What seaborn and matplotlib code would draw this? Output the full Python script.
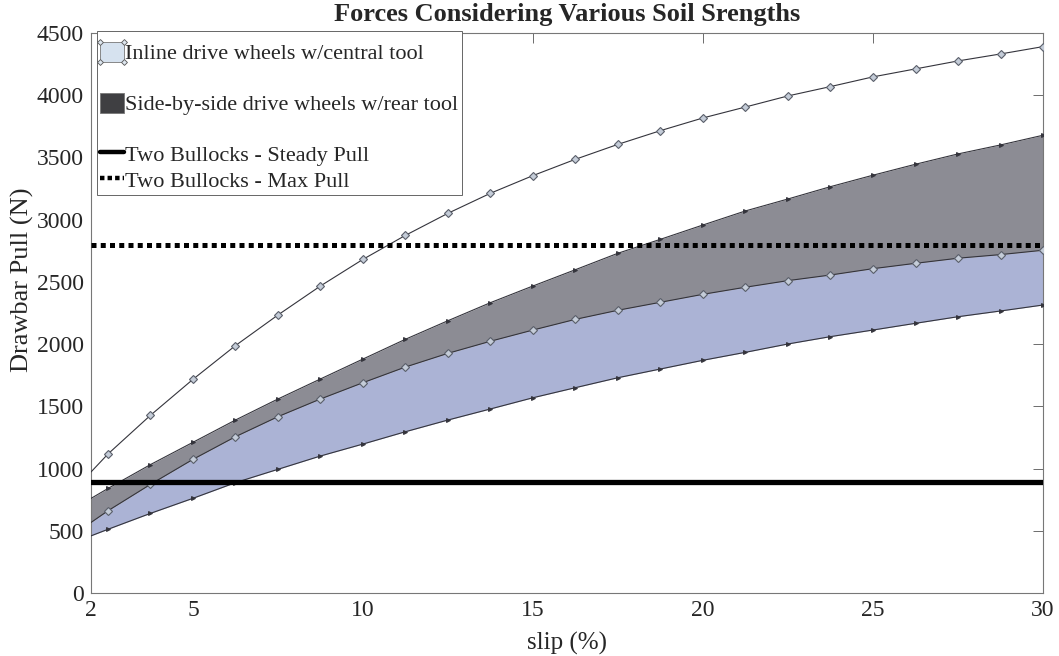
import numpy as np
import pandas as pd
import matplotlib
matplotlib.use("Agg")
import matplotlib.pyplot as plt
import seaborn as sns
from matplotlib.patches import Rectangle, Patch
from matplotlib.lines import Line2D
from matplotlib.legend_handler import HandlerBase

# Slip values (%) at which drawbar pull was evaluated
slip = [1.25, 2.5, 3.75, 5.0, 6.25, 7.5, 8.75, 10.0, 11.25, 12.5, 13.75, 15.0,
        16.25, 17.5, 18.75, 20.0, 21.25, 22.5, 23.75, 25.0, 26.25, 27.5, 28.75, 30.0]

# Drawbar pull (N) for each soil strength case
pull_upper_bound = [755, 1117, 1428, 1717, 1988, 2234, 2467, 2681, 2874, 3051, 3212, 3354,
                    3485, 3605, 3715, 3817, 3905, 3994, 4069, 4147, 4211, 4275, 4331, 4390]
pull_side_high = [640, 840, 1032, 1211, 1390, 1559, 1720, 1880, 2039, 2188, 2333, 2467,
                  2598, 2730, 2842, 2957, 3070, 3166, 3265, 3357, 3445, 3528, 3600, 3678]
pull_inline_high = [425, 661, 873, 1074, 1256, 1417, 1559, 1690, 1816, 1926, 2023, 2113,
                    2199, 2272, 2336, 2400, 2457, 2510, 2555, 2606, 2649, 2690, 2719, 2754]
pull_low = [380, 512, 640, 761, 887, 994, 1101, 1197, 1296, 1390, 1479, 1569,
            1650, 1730, 1800, 1870, 1934, 2001, 2060, 2113, 2167, 2220, 2266, 2314]

bullock_steady = 890
bullock_max = 2800

x_ticks = [2, 5, 10, 15, 20, 25, 30]
y_ticks = list(range(0, 4501, 500))

labels = ["Inline drive wheels w/central tool",
          "Side-by-side drive wheels w/rear tool",
          "Two Bullocks - Steady Pull",
          "Two Bullocks - Max Pull"]

df = pd.DataFrame({
    "slip": slip * 4,
    "pull": pull_upper_bound + pull_side_high + pull_inline_high + pull_low,
    "curve": (["upper"] * len(slip) + ["side"] * len(slip)
              + ["inline"] * len(slip) + ["low"] * len(slip)),
})

sns.set_theme(style="white")
plt.rcParams["font.family"] = ["Liberation Serif", "DejaVu Serif"]

fig = plt.figure(figsize=(10.59, 6.56), dpi=100)
ax = fig.add_axes([0.0859, 0.096, 0.899, 0.8538])

BLUE = "#abb3d5"
GREY = "#8c8c94"
EDGE = "#34343c"

ax.fill_between(slip, pull_low, pull_inline_high, color=BLUE, lw=0, zorder=1)
ax.fill_between(slip, pull_inline_high, pull_side_high, color=GREY, lw=0, zorder=1)

diamond_kw = dict(marker="D", markersize=4.0, markerfacecolor="#c4ccd8",
                  markeredgecolor="#5a5f6a", markeredgewidth=0.8)
small_kw = dict(marker=">", markersize=2.8, markerfacecolor=EDGE, markeredgecolor=EDGE)

for name, kw in [("upper", diamond_kw), ("inline", diamond_kw),
                 ("side", small_kw), ("low", small_kw)]:
    sns.lineplot(data=df[df["curve"] == name], x="slip", y="pull", ax=ax,
                 color=EDGE, lw=0.8, zorder=3, legend=False, **kw)

ax.axhline(bullock_steady, color="black", lw=3.8, zorder=4)
ax.axhline(bullock_max, color="black", lw=3.6, linestyle=(0, (1, 0.85)),
           dash_capstyle="butt", zorder=4)

ax.set_xlim(2, 30)
ax.set_ylim(0, 4500)
ax.set_xticks(x_ticks)
ax.set_yticks(y_ticks)
ax.tick_params(direction="in", length=7, width=0.6, color="#555555",
               top=True, right=True, labelsize=17, pad=5)
for s in ax.spines.values():
    s.set_color("#777777")
    s.set_linewidth(0.8)

ax.set_xlabel("slip (%)", fontsize=18, labelpad=8)
ax.set_ylabel("Drawbar Pull (N)", fontsize=19)
ax.yaxis.set_label_coords(-0.060, 0.56)
ax.set_title("Forces Considering Various Soil Srengths", fontsize=19,
             fontweight="bold", pad=8.5)


class CornerPatchHandler(HandlerBase):
    """Filled rectangle, with diamond markers at the corners for the inline entry."""

    def create_artists(self, legend, orig_handle, xdescent, ydescent,
                       width, height, fontsize, trans):
        x0, y0 = -xdescent, -ydescent
        is_entry = orig_handle.get_label() in labels
        rect = Rectangle((x0, y0), width, height,
                         facecolor=orig_handle.get_facecolor(),
                         edgecolor="#777777" if is_entry else "none",
                         lw=0.6, transform=trans, visible=is_entry)
        artists = [rect]
        if orig_handle.get_label() == labels[0]:
            xs = [x0, x0 + width, x0 + width, x0]
            ys = [y0, y0, y0 + height, y0 + height]
            artists.append(Line2D(xs, ys, ls="none", marker="D", markersize=3,
                                  markerfacecolor="#dde6ef",
                                  markeredgecolor="#555555",
                                  markeredgewidth=0.6, transform=trans))
        return artists


blank = Patch(facecolor="none", edgecolor="none", label=" ")
h_inline = Patch(facecolor="#d6e2ef", label=labels[0])
h_side = Patch(facecolor="#3f3f42", label=labels[1])
h_steady = Line2D([], [], color="black", lw=3.2, label=labels[2])
h_max = Line2D([], [], color="black", lw=3.2, linestyle=(0, (1, 0.7)),
               dash_capstyle="butt", label=labels[3])

leg = ax.legend(handles=[h_inline, blank, h_side, blank, h_steady, h_max],
                loc="upper left", bbox_to_anchor=(0.0063, 1.004),
                title=" ", title_fontsize=5,
                fontsize=16, frameon=True, fancybox=False, framealpha=1,
                edgecolor="#666666", handlelength=1.05, handleheight=1.0,
                handletextpad=0.08, labelspacing=0.13, borderpad=0.15,
                borderaxespad=0.0,
                handler_map={Patch: CornerPatchHandler()})
leg.get_frame().set_linewidth(0.7)

fig.savefig("out.png", dpi=100)
